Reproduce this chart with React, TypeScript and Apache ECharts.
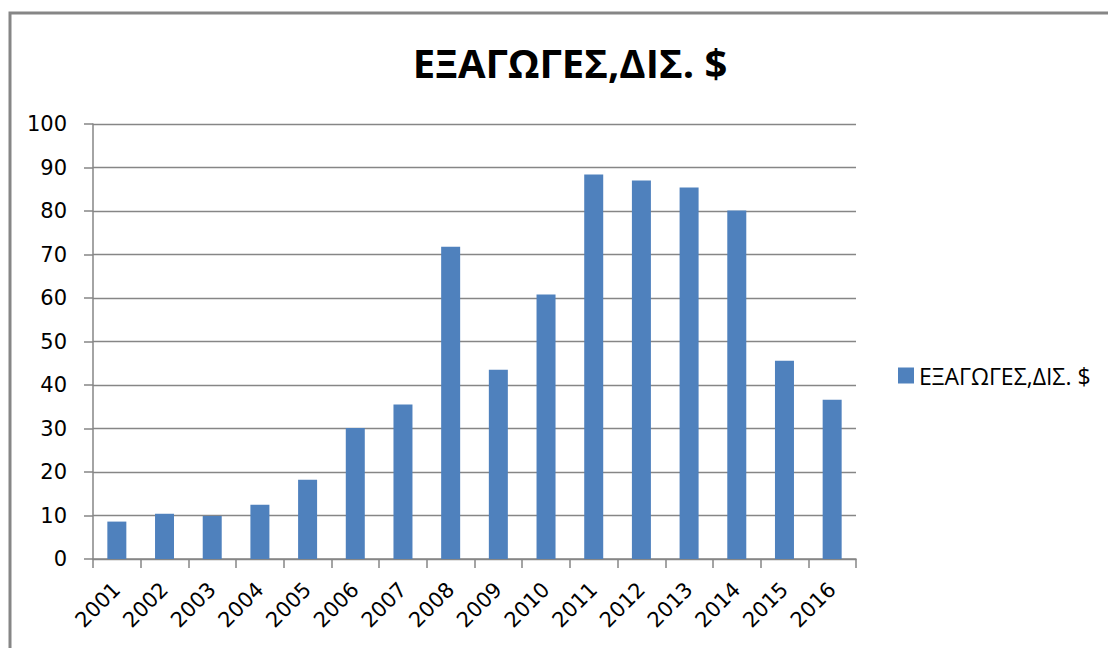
import React, { useEffect, useRef } from "react";
import * as echarts from "echarts";

const categories = ["2001","2002","2003","2004","2005","2006","2007","2008","2009","2010","2011","2012","2013","2014","2015","2016"];
const exportsValues = [8.6, 10.4, 9.9, 12.5, 18.2, 30.1, 35.5, 71.8, 43.5, 60.8, 88.4, 87.0, 85.4, 80.1, 45.6, 36.6];
const seriesName = "ΕΞΑΓΩΓΕΣ,ΔΙΣ. $";
const titleText = "ΕΞΑΓΩΓΕΣ,ΔΙΣ. $";

export default function App() {
  const ref = useRef<HTMLDivElement>(null);
  useEffect(() => {
    if (!ref.current) return;
    const chart = echarts.init(ref.current, undefined, { renderer: "svg" });
    const grey = "#868686";
    chart.setOption({
      animation: false,
      backgroundColor: "#ffffff",
      title: {
        text: titleText,
        left: 565,
        top: 37,
        textAlign: "center",
        textStyle: {
          fontFamily: "'Open Sans', sans-serif",
          fontWeight: "bold",
          fontSize: 40,
          color: "#000",
        },
      },
      legend: {
        orient: "vertical",
        left: 893,
        top: 359,
        itemWidth: 16,
        itemHeight: 16,
        itemGap: 5,
        icon: "rect",
        textStyle: {
          fontFamily: "'Open Sans', sans-serif",
          fontSize: 23,
          color: "#000",
        },
        data: [seriesName],
      },
      grid: { left: 93, right: 252, top: 124, bottom: 89, containLabel: false },
      xAxis: {
        type: "category",
        data: categories,
        boundaryGap: true,
        axisLine: { show: true, lineStyle: { color: grey, width: 1.5 } },
        axisTick: { show: true, alignWithLabel: false, length: 9, lineStyle: { color: grey, width: 1.5 } },
        axisLabel: {
          rotate: 45,
          margin: 27,
          fontFamily: "'DejaVu Sans', sans-serif",
          fontSize: 21,
          color: "#000",
          interval: 0,
        },
      },
      yAxis: {
        type: "value",
        min: 0,
        max: 100,
        interval: 10,
        axisLine: { show: true, lineStyle: { color: grey, width: 1.5 } },
        axisTick: { show: true, inside: false, length: 9, lineStyle: { color: grey, width: 1.5 } },
        splitLine: { show: true, lineStyle: { color: grey, width: 1.3 } },
        axisLabel: {
          margin: 26,
          fontFamily: "'DejaVu Sans', sans-serif",
          fontSize: 21,
          color: "#000",
        },
      },
      series: [
        {
          name: seriesName,
          type: "bar",
          data: exportsValues,
          barWidth: 19,
          itemStyle: { color: "#4F81BD" },
        },
      ],
      graphic: [
        {
          type: "rect",
          shape: { x: 10, y: 13, width: 1200, height: 700 },
          style: { fill: "none", stroke: grey, lineWidth: 3 },
          silent: true,
        },
      ],
    });
    return () => chart.dispose();
  }, []);
  return (
    <div
      ref={ref}
      style={{ position: "fixed", left: 0, top: 0, width: 1108, height: 648 }}
    />
  );
}
